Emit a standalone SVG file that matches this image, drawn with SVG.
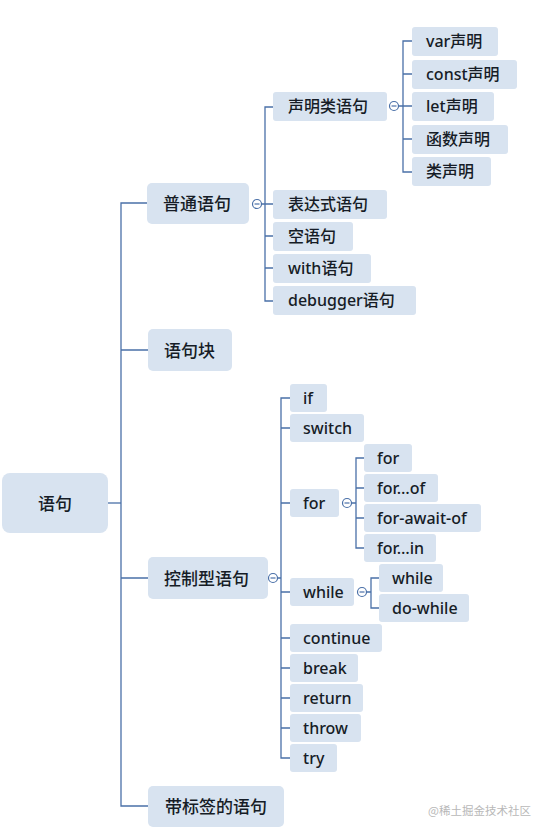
<svg xmlns="http://www.w3.org/2000/svg" width="550" height="835" viewBox="0 0 550 835">
<style>
.b{fill:#d8e3f0}
.t{font-family:"Noto Sans","Noto Sans CJK SC",sans-serif;font-size:16px;font-weight:500;fill:#161c26;dominant-baseline:central}
.t1{font-size:17px}
.c{fill:#fff;stroke:#4a70a8;stroke-width:1.2}
.m{stroke:#4a70a8;stroke-width:1.2}
.ln{fill:none;stroke:#4a70a8;stroke-width:1.3}
.wm{font-family:"Noto Sans CJK SC",sans-serif;font-size:11.5px;fill:#b8b8b8;dominant-baseline:central}
</style>
<g id="connectors" class="ln">
<path d="M108,503 H121"/>
<path d="M147,203 H121 V806 H148 M121,350 H148 M121,578 H148"/>
<path d="M261,204 H265 M273,107 H265 V301 H273 M265,204 H273 M265,236 H273 M265,268 H273"/>
<path d="M398.5,106 H403 M412,41 H403 V172 H412 M403,74 H412 M403,106 H412 M403,139 H412"/>
<path d="M277.5,578 H281 M290,398 H281 V758 H290 M281,428 H290 M281,503 H290 M281,592 H290 M281,638 H290 M281,668 H290 M281,698 H290 M281,728 H290"/>
<path d="M351.5,503 H356 M364,458 H356 V548 H364 M356,488 H364 M356,518 H364"/>
<path d="M366.5,592 H371 M379,578 H371 V608 H379"/>
</g>
<g id="toggles">
<circle class="c" cx="257" cy="204" r="4.5"/><path class="m" d="M254.5,204 H259.5"/>
<circle class="c" cx="394" cy="106" r="4.5"/><path class="m" d="M391.5,106 H396.5"/>
<circle class="c" cx="273" cy="578" r="4.5"/><path class="m" d="M270.5,578 H275.5"/>
<circle class="c" cx="347" cy="503" r="4.5"/><path class="m" d="M344.5,503 H349.5"/>
<circle class="c" cx="362" cy="592" r="4.5"/><path class="m" d="M359.5,592 H364.5"/>
</g>
<g id="n-root"><rect class="b" x="2" y="473" width="106" height="60" rx="8"/><text class="t t1" x="55" y="503" text-anchor="middle">语句</text></g>
<g id="n-putong"><rect class="b" x="147" y="183" width="102" height="41" rx="5"/><text class="t t1" x="163" y="203">普通语句</text></g>
<g id="n-kuai"><rect class="b" x="148" y="329" width="84" height="42" rx="5"/><text class="t t1" x="164" y="350">语句块</text></g>
<g id="n-kongzhi"><rect class="b" x="148" y="557" width="120" height="42" rx="5"/><text class="t t1" x="164" y="578">控制型语句</text></g>
<g id="n-biaoqian"><rect class="b" x="148" y="786" width="136" height="41" rx="5"/><text class="t t1" x="165" y="806">带标签的语句</text></g>
<g id="n-shengming"><rect class="b" x="273" y="92" width="114" height="29" rx="3"/><text class="t" x="288" y="106">声明类语句</text></g>
<g id="n-biaodashi"><rect class="b" x="273" y="190" width="114" height="29" rx="3"/><text class="t" x="288" y="204">表达式语句</text></g>
<g id="n-kong"><rect class="b" x="273" y="222" width="80" height="29" rx="3"/><text class="t" x="288" y="236">空语句</text></g>
<g id="n-with"><rect class="b" x="273" y="254" width="98" height="29" rx="3"/><text class="t" x="288" y="268">with语句</text></g>
<g id="n-debugger"><rect class="b" x="273" y="286" width="143" height="29" rx="3"/><text class="t" x="288" y="300">debugger语句</text></g>
<g id="n-var"><rect class="b" x="412" y="27" width="86" height="29" rx="3"/><text class="t" x="426" y="41">var声明</text></g>
<g id="n-const"><rect class="b" x="412" y="60" width="105" height="29" rx="3"/><text class="t" x="426" y="74">const声明</text></g>
<g id="n-let"><rect class="b" x="412" y="92" width="82" height="29" rx="3"/><text class="t" x="426" y="106">let声明</text></g>
<g id="n-hanshu"><rect class="b" x="412" y="125" width="96" height="29" rx="3"/><text class="t" x="426" y="139">函数声明</text></g>
<g id="n-lei"><rect class="b" x="412" y="157" width="79" height="29" rx="3"/><text class="t" x="426" y="171">类声明</text></g>
<g id="n-if"><rect class="b" x="290" y="384" width="37" height="28" rx="3"/><text class="t" x="303" y="398">if</text></g>
<g id="n-switch"><rect class="b" x="290" y="414" width="74" height="28" rx="3"/><text class="t" x="303" y="428">switch</text></g>
<g id="n-for"><rect class="b" x="290" y="489" width="49" height="28" rx="3"/><text class="t" x="303" y="503">for</text></g>
<g id="n-for1"><rect class="b" x="364" y="444" width="48" height="28" rx="3"/><text class="t" x="377" y="458">for</text></g>
<g id="n-forof"><rect class="b" x="364" y="474" width="74" height="28" rx="3"/><text class="t" x="377" y="488">for…of</text></g>
<g id="n-forawait"><rect class="b" x="364" y="504" width="117" height="28" rx="3"/><text class="t" x="377" y="518">for-await-of</text></g>
<g id="n-forin"><rect class="b" x="364" y="534" width="72" height="28" rx="3"/><text class="t" x="377" y="548">for…in</text></g>
<g id="n-while"><rect class="b" x="290" y="578" width="64" height="28" rx="3"/><text class="t" x="303" y="592">while</text></g>
<g id="n-while1"><rect class="b" x="379" y="564" width="64" height="28" rx="3"/><text class="t" x="392" y="578">while</text></g>
<g id="n-dowhile"><rect class="b" x="379" y="594" width="90" height="28" rx="3"/><text class="t" x="392" y="608">do-while</text></g>
<g id="n-continue"><rect class="b" x="290" y="624" width="92" height="28" rx="3"/><text class="t" x="303" y="638">continue</text></g>
<g id="n-break"><rect class="b" x="290" y="654" width="68" height="28" rx="3"/><text class="t" x="303" y="668">break</text></g>
<g id="n-return"><rect class="b" x="290" y="684" width="73" height="28" rx="3"/><text class="t" x="303" y="698">return</text></g>
<g id="n-throw"><rect class="b" x="290" y="714" width="71" height="28" rx="3"/><text class="t" x="303" y="728">throw</text></g>
<g id="n-try"><rect class="b" x="290" y="744" width="47" height="28" rx="3"/><text class="t" x="303" y="758">try</text></g>
<text class="wm" x="428" y="810">@稀土掘金技术社区</text>
</svg>
